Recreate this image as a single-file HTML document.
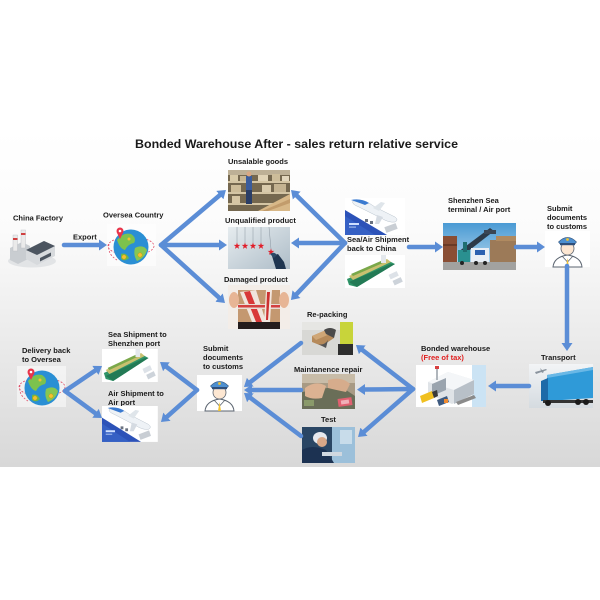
<!DOCTYPE html>
<html><head><meta charset="utf-8"><style>
html,body{margin:0;padding:0;background:#fff;width:600px;height:600px;overflow:hidden;}
svg{display:block;}
text{font-family:"Liberation Sans",Arial,sans-serif;font-weight:bold;font-size:7.5px;fill:#1a1a1a;}
</style></head><body>
<svg width="600" height="600" viewBox="0 0 600 600" xmlns="http://www.w3.org/2000/svg">
<defs>
<linearGradient id="bg" x1="0" y1="0" x2="0" y2="1">
<stop offset="0" stop-color="#ffffff"/>
<stop offset="0.3" stop-color="#fbfbfb"/>
<stop offset="1" stop-color="#d8d8d8"/>
</linearGradient>
<linearGradient id="sky" x1="0" y1="0" x2="0" y2="1">
<stop offset="0" stop-color="#4a9ad4"/><stop offset="1" stop-color="#bcdcee"/>
</linearGradient>
<linearGradient id="uq" x1="0" y1="0" x2="1" y2="1">
<stop offset="0" stop-color="#e6ecef"/><stop offset="1" stop-color="#aebdc8"/>
</linearGradient>
<linearGradient id="trk" x1="0" y1="0" x2="0" y2="1">
<stop offset="0" stop-color="#f2f4f6"/><stop offset="1" stop-color="#d5dbe0"/>
</linearGradient>
<marker id="ah" markerUnits="userSpaceOnUse" markerWidth="8" markerHeight="11" refX="1" refY="5.5" orient="auto">
<path d="M0,0 L8,5.5 L0,11 z" fill="#5b8dd6"/>
</marker>
<path id="star" d="M0,-3.5 L0.82,-1.13 L3.33,-1.08 L1.33,0.43 L2.06,2.83 L0,1.4 L-2.06,2.83 L-1.33,0.43 L-3.33,-1.08 L-0.82,-1.13 Z" fill="#e01e2a"/>
<g id="officer">
<rect width="45" height="36" fill="#fff"/>
<path d="M8,36 Q9,26 22.5,24 Q36,26 37,36 Z" fill="#fff" stroke="#5b6470" stroke-width="1"/>
<path d="M17,25 L22.5,31 L28,25" fill="none" stroke="#5b6470" stroke-width="0.8"/>
<circle cx="22.5" cy="17.5" r="6.5" fill="#fde7d2" stroke="#5b6470" stroke-width="0.8"/>
<path d="M13.5,11 Q22.5,2 31.5,11 L29.5,13.5 L15.5,13.5 Z" fill="#4d8fd0" stroke="#3a5a80" stroke-width="0.6"/>
<rect x="15" y="12" width="15" height="2.2" fill="#2f4f7a"/>
<circle cx="22.5" cy="8.5" r="1.4" fill="#f2c230"/>
<path d="M22.5,27 L21,36 L24,36 Z" fill="#f2c230"/>
</g>
<g id="globe">
<ellipse cx="0" cy="0" rx="23" ry="9" fill="none" stroke="#e0506a" stroke-dasharray="2 1.5" stroke-width="0.8"/>
<circle cx="0" cy="1" r="17.5" fill="#2a8fd4"/>
<path d="M-14,-6 Q-8,-14 0,-12 Q6,-8 3,-3 Q-3,-2 -6,4 Q-11,3 -14,-6 Z" fill="#7cc24e"/>
<path d="M4,2 Q12,-2 16,4 Q14,12 6,15 Q2,9 4,2 Z" fill="#86c653"/>
<path d="M-10,8 Q-5,6 -2,12 Q-6,16 -10,13 Z" fill="#6cb84a"/>
<circle cx="-7" cy="11" r="2.2" fill="#f2c230" stroke="#c89a10" stroke-width="0.5"/>
<circle cx="9" cy="9" r="2.2" fill="#f2c230" stroke="#c89a10" stroke-width="0.5"/>
<circle cx="-2" cy="-7" r="1.5" fill="#f2c230"/>
<path d="M-14.2,-13.5 L-11,-7 L-7.8,-13.5 Z" fill="#e8344a"/>
<circle cx="-11" cy="-15" r="3.5" fill="#e8344a"/>
<circle cx="-11" cy="-15" r="1.3" fill="#fff"/>
<path d="M-22,-2 Q-24,8 -14,14" fill="none" stroke="#e0506a" stroke-dasharray="2 1.5" stroke-width="0.8"/>
</g>
<g id="plane">
<rect width="60" height="37" fill="#fff"/>
<polygon points="0,12 0,37 42,37" fill="#2c52b8"/>
<polygon points="0,18 0,37 30,37" fill="#3560c4"/>
<path d="M8,3 Q20,1 30,9 L50,19 Q54,22 50,24 Q44,25 36,20 L14,9 Q6,6 8,3 Z" fill="#eef2f6" stroke="#b8c2cc" stroke-width="0.5"/>
<path d="M6,2 Q16,0 24,5 L20,7 Q12,4 6,2 Z" fill="#3a7ad0"/>
<path d="M28,10 L36,4 L40,5 L34,13 Z" fill="#dfe5ea"/>
<path d="M32,17 L30,26 L34,26 L38,19 Z" fill="#d5dbe2"/>
<rect x="40" y="27" width="12" height="6" fill="#c9ced4" transform="rotate(-20 46 30)"/>
<rect x="20" y="21" width="3" height="3" fill="#6a7280"/>
<rect x="25" y="23" width="3" height="3" fill="#6a7280"/>
<rect x="4" y="25" width="10" height="2" fill="#cfe0ff"/>
<rect x="4" y="28.5" width="7" height="1.2" fill="#9fb8ea"/>
</g>
<g id="ship">
<rect width="60" height="33" fill="#fff"/>
<polygon points="2,24 44,6 50,9 12,32 4,30" fill="#2f9468"/>
<polygon points="4,21 42,4 46,7 8,25" fill="#c9c070"/>
<polygon points="6,19 38,5 40,7 8,21" fill="#7aa84a"/>
<polygon points="4,27 46,9 50,9 12,32" fill="#237a55"/>
<rect x="36" y="0" width="5" height="8" fill="#e4e8ec"/>
<rect x="44" y="18" width="9" height="5" fill="#dde2e8" transform="rotate(-25 48 20)"/>
<rect x="48" y="24" width="9" height="5" fill="#cdd3da" transform="rotate(-25 52 26)"/>
</g>
</defs>

<rect x="0" y="130" width="600" height="337" fill="url(#bg)"/>

<!-- Title -->
<text x="135" y="148" style="font-size:12.4px" textLength="323" lengthAdjust="spacingAndGlyphs" fill="#111">Bonded Warehouse After - sales return relative service</text>

<!-- China factory -->
<text x="13" y="220.5">China Factory</text>
<ellipse cx="32" cy="261" rx="24" ry="6.5" fill="#e2e4e6"/>
<polygon points="10,248 22,242 30,246 30,258 18,264 10,260" fill="#c9cdd1"/>
<rect x="13" y="235" width="4.5" height="16" fill="#eaeaea" stroke="#b8bcc0" stroke-width="0.4"/>
<rect x="13" y="238" width="4.5" height="2" fill="#d04040"/>
<rect x="21" y="230" width="4.5" height="18" fill="#eaeaea" stroke="#b8bcc0" stroke-width="0.4"/>
<rect x="21" y="233" width="4.5" height="2" fill="#d04040"/>
<polygon points="26,250 44,241 55,246 55,256 37,265 26,259" fill="#d7dadd"/>
<polygon points="26,250 44,241 55,246 37,255" fill="#4c5560"/>
<polygon points="40,258 51,252.5 51,256 40,261.5" fill="#4c5560"/>

<text x="73" y="239.5">Export</text>

<!-- Oversea country -->
<text x="103" y="217.5">Oversea Country</text>
<rect x="107" y="224" width="49" height="42" fill="#fff" opacity="0.5"/>
<use href="#globe" x="131" y="246"/>

<!-- Unsalable goods -->
<text x="228" y="164">Unsalable goods</text>
<rect x="228" y="170" width="62" height="41" fill="#75684f"/>
<rect x="228" y="170" width="62" height="5" fill="#bdb096"/>
<rect x="228" y="181" width="62" height="2" fill="#d4c5a4"/>
<rect x="228" y="192" width="62" height="2" fill="#d4c5a4"/>
<rect x="228" y="203" width="62" height="2" fill="#d4c5a4"/>
<rect x="230" y="175" width="8" height="6" fill="#d8caa8"/>
<rect x="240" y="176" width="6" height="5" fill="#c6b592"/>
<rect x="258" y="175" width="10" height="6" fill="#e0d3b6"/>
<rect x="272" y="174" width="8" height="7" fill="#cdbd9a"/>
<rect x="282" y="176" width="7" height="5" fill="#e2d6bc"/>
<rect x="231" y="185" width="10" height="7" fill="#cdbc98"/>
<rect x="262" y="185" width="9" height="7" fill="#d9cbac"/>
<rect x="274" y="184" width="12" height="8" fill="#c4b391"/>
<rect x="232" y="196" width="8" height="7" fill="#d6c6a4"/>
<rect x="246" y="176" width="6" height="28" fill="#3a5c9c"/>
<circle cx="249" cy="174" r="2.5" fill="#d9a884"/>
<rect x="246" y="190" width="6" height="14" fill="#2a3e66"/>
<polygon points="258,211 290,194 290,211" fill="#d8b888"/>
<polygon points="262,211 290,199 290,203 268,211" fill="#c29c6c"/>

<!-- Unqualified -->
<text x="225" y="223">Unqualified product</text>
<rect x="228" y="227" width="62" height="42" fill="url(#uq)"/>
<g stroke="#7a8590" stroke-width="0.4">
<line x1="237" y1="227" x2="237" y2="243"/>
<line x1="245" y1="227" x2="245" y2="243"/>
<line x1="253" y1="227" x2="253" y2="243"/>
<line x1="261" y1="227" x2="261" y2="243"/>
<line x1="269" y1="227" x2="271" y2="249"/>
</g>
<use href="#star" x="237" y="246"/>
<use href="#star" x="245" y="246"/>
<use href="#star" x="253" y="246"/>
<use href="#star" x="261" y="246"/>
<use href="#star" x="271" y="252"/>
<path d="M272,256 L278,254 L284,262 L286,269 L276,269 Z" fill="#1e3550"/>
<path d="M270,254 Q274,251 277,255 L274,258 Z" fill="#2b4866"/>

<!-- Damaged -->
<text x="224" y="282">Damaged product</text>
<rect x="228" y="285" width="62" height="44" fill="#f3ede8"/>
<rect x="238" y="290" width="42" height="32" fill="#c49870"/>
<polygon points="240,292 256,290 266,322 252,322" fill="#f0e4dc"/>
<polygon points="244,292 250,291 262,322 256,322" fill="#d83838"/>
<rect x="238" y="304" width="42" height="5" fill="#e8dcd4"/>
<rect x="238" y="305" width="42" height="2.5" fill="#d44040"/>
<polygon points="266,290 272,290 270,322 264,322" fill="#f2e6de"/>
<polygon points="267,292 270,292 268,320 266,320" fill="#cc3030"/>
<ellipse cx="234" cy="300" rx="5" ry="8" fill="#e7b595"/>
<ellipse cx="284" cy="300" rx="5" ry="8" fill="#e7b595"/>
<rect x="238" y="322" width="42" height="7" fill="#241c1c"/>

<!-- Sea/Air shipment back to China -->
<use href="#plane" x="345" y="198"/>
<use href="#ship" x="345" y="255"/>
<text x="347" y="242">Sea/Air Shipment</text>
<text x="347" y="251">back to China</text>

<!-- Shenzhen terminal -->
<text x="448" y="203">Shenzhen Sea</text>
<text x="448" y="212">terminal / Air port</text>
<rect x="443" y="223" width="73" height="47" fill="url(#sky)"/>
<rect x="443" y="236" width="14" height="26" fill="#8a4e34"/>
<rect x="443" y="244" width="14" height="2" fill="#6a3a26"/>
<rect x="490" y="240" width="26" height="22" fill="#9c7a58"/>
<rect x="496" y="236" width="20" height="5" fill="#b08a60"/>
<polygon points="458,252 490,228 494,231 462,256" fill="#2c3a48"/>
<rect x="484" y="230" width="12" height="4" fill="#3a4654"/>
<rect x="458" y="250" width="12" height="12" fill="#2a9090"/>
<rect x="463" y="242" width="4" height="10" fill="#1f6e70"/>
<rect x="471" y="248" width="18" height="14" fill="#e8eef5"/>
<rect x="475" y="250" width="10" height="5" fill="#2a60b0"/>
<rect x="443" y="262" width="73" height="8" fill="#a2a2a0"/>
<circle cx="462" cy="263" r="2" fill="#222"/>
<circle cx="476" cy="263" r="2" fill="#222"/>
<circle cx="485" cy="263" r="2" fill="#222"/>

<!-- Submit docs top -->
<text x="547" y="211">Submit</text>
<text x="547" y="220">documents</text>
<text x="547" y="229">to customs</text>
<use href="#officer" x="545" y="231"/>

<!-- Transport -->
<text x="541" y="360">Transport</text>
<rect x="529" y="364" width="64" height="44" fill="url(#trk)"/>
<polygon points="547,375 593,367 593,398 547,401" fill="#2f9ad8"/>
<polygon points="547,375 593,367 593,370 547,378" fill="#6ab8e6"/>
<polygon points="541,381 548,378 548,401 541,401" fill="#1d6aa8"/>
<rect x="543" y="400" width="50" height="3" fill="#333"/>
<circle cx="548" cy="403" r="3" fill="#1a1a1a"/>
<circle cx="578" cy="402" r="3" fill="#1a1a1a"/>
<circle cx="586" cy="402" r="3" fill="#1a1a1a"/>
<path d="M535,372 L546,369 L547,370 L536,374 Z" fill="#8a949e"/>
<path d="M540,368 L542,373 L544,372 Z" fill="#8a949e"/>

<!-- Bonded warehouse -->
<text x="421" y="351">Bonded warehouse</text>
<text x="421" y="360" style="fill:#e02020">(Free of tax)</text>
<rect x="416" y="365" width="70" height="42" fill="#fff"/>
<rect x="472" y="365" width="14" height="42" fill="#cbe3f4"/>
<polygon points="428,382 448,372 474,380 474,394 452,404 428,394" fill="#dfe3e7"/>
<polygon points="428,382 448,372 474,380 454,390" fill="#f4f6f8"/>
<polygon points="454,390 474,380 474,394 454,404" fill="#b8c0c8"/>
<polygon points="432,384 446,378 446,390 432,396" fill="#9aa4ae"/>
<rect x="436" y="368" width="2" height="12" fill="#b0b6bc"/>
<rect x="435" y="366" width="4" height="3" fill="#d84040"/>
<polygon points="420,396 432,391 434,398 422,403" fill="#f0c020"/>
<polygon points="432,392 437,390 438,396 434,398" fill="#3a3a3a"/>
<polygon points="437,400 447,396 449,402 439,406" fill="#3e5a80"/>
<rect x="444" y="399" width="4" height="4" fill="#f08a30"/>
<polygon points="456,402 474,395 476,398 458,405" fill="#8a8a8a"/>

<!-- Re-packing -->
<text x="307" y="317">Re-packing</text>
<rect x="302" y="322" width="51" height="33" fill="#d8d8d5"/>
<rect x="302" y="322" width="51" height="8" fill="#e6e6e3"/>
<polygon points="312,336 326,330 334,338 322,346 312,342" fill="#b68a5a"/>
<polygon points="312,336 326,330 330,334 316,340" fill="#cfa676"/>
<path d="M324,330 Q330,326 336,330 L334,338 L326,334 Z" fill="#4a4a4a"/>
<path d="M318,344 Q324,346 328,340 L326,348 Z" fill="#555"/>
<rect x="340" y="322" width="13" height="22" fill="#c8d43a"/>
<rect x="338" y="344" width="15" height="11" fill="#2e2e2e"/>

<!-- Maintenance -->
<text x="294" y="372">Maintanence repair</text>
<rect x="302" y="374" width="53" height="35" fill="#a89a84"/>
<rect x="302" y="374" width="53" height="9" fill="#c8bca8"/>
<polygon points="302,392 340,386 355,396 355,409 302,409" fill="#6a6e58"/>
<path d="M305,388 Q316,380 326,386 L322,398 Q312,400 305,396 Z" fill="#dcb292"/>
<path d="M328,380 Q342,376 350,384 L346,392 Q336,390 328,388 Z" fill="#d6ac8c"/>
<rect x="338" y="398" width="14" height="8" fill="#e06070" transform="rotate(-8 345 402)"/>
<rect x="341" y="400" width="8" height="4" fill="#f0b0b8" transform="rotate(-8 345 402)"/>
<rect x="304" y="400" width="10" height="6" fill="#8a9a6a"/>

<!-- Test -->
<text x="321" y="422">Test</text>
<rect x="302" y="427" width="53" height="36" fill="#2a4664"/>
<rect x="332" y="427" width="23" height="36" fill="#9cc0da"/>
<rect x="340" y="430" width="12" height="14" fill="#c8dcea"/>
<ellipse cx="320" cy="438" rx="7" ry="6" fill="#e6e9ee"/>
<ellipse cx="322" cy="442" rx="5" ry="5" fill="#d9a888"/>
<path d="M302,450 Q312,444 326,450 L334,463 L302,463 Z" fill="#1c3252"/>
<rect x="322" y="452" width="20" height="4" fill="#d0d8e0"/>

<!-- Submit docs bottom -->
<text x="203" y="351">Submit</text>
<text x="203" y="360">documents</text>
<text x="203" y="369">to customs</text>
<use href="#officer" x="197" y="375"/>

<!-- Sea / Air shipments bottom -->
<text x="108" y="337">Sea Shipment to</text>
<text x="108" y="346">Shenzhen port</text>
<use href="#ship" x="0" y="0" transform="translate(102,349) scale(0.93,1)"/>
<text x="108" y="396">Air Shipment to</text>
<text x="108" y="405">Air  port</text>
<use href="#plane" x="0" y="0" transform="translate(102,406) scale(0.93,0.97)"/>

<!-- Delivery back -->
<text x="22" y="353">Delivery back</text>
<text x="22" y="362">to Oversea</text>
<rect x="17" y="366" width="49" height="41" fill="#fff" opacity="0.5"/>
<use href="#globe" x="42" y="387"/>

<!-- Arrows -->
<g stroke="#5b8dd6" stroke-width="4.5" stroke-linecap="round" fill="none" marker-end="url(#ah)">
<line x1="64" y1="245" x2="100" y2="245"/>
<line x1="161" y1="245" x2="220.6" y2="194.5"/>
<line x1="161" y1="245" x2="220" y2="245"/>
<line x1="161" y1="245" x2="219.8" y2="298.3"/>
<line x1="345" y1="243" x2="296" y2="194.9"/>
<line x1="345" y1="243" x2="298" y2="243"/>
<line x1="345" y1="243" x2="295.8" y2="294.9"/>
<line x1="409" y1="247" x2="436" y2="247"/>
<line x1="516" y1="247" x2="538" y2="247"/>
<line x1="567" y1="266" x2="567" y2="344"/>
<line x1="529" y1="386" x2="495" y2="386"/>
<line x1="413" y1="389" x2="361.5" y2="349.3"/>
<line x1="413" y1="389" x2="364" y2="389.5"/>
<line x1="413" y1="389" x2="363.3" y2="432.4"/>
<line x1="301" y1="343" x2="249.5" y2="382.7"/>
<line x1="301" y1="390" x2="251" y2="390"/>
<line x1="301" y1="436" x2="249.6" y2="397.2"/>
<line x1="197" y1="390" x2="165.6" y2="366.2"/>
<line x1="197" y1="390" x2="166.2" y2="417.4"/>
<line x1="65" y1="391" x2="96.2" y2="369.9"/>
<line x1="65" y1="391" x2="96.3" y2="413.9"/>
</g>
</svg>
</body></html>
